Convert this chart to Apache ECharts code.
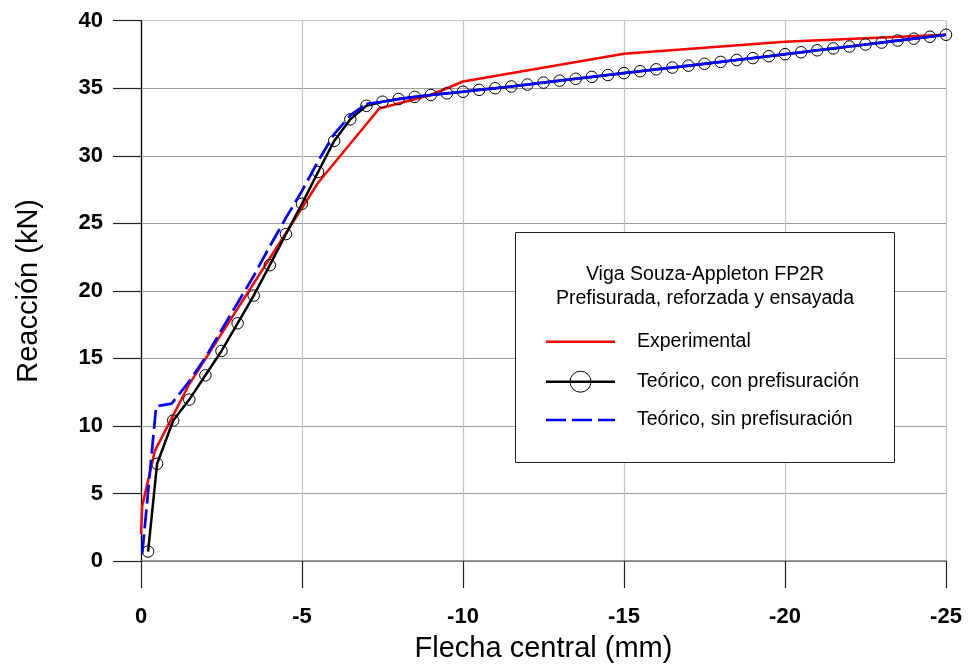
<!DOCTYPE html>
<html>
<head>
<meta charset="utf-8">
<script src="https://cdn.jsdelivr.net/npm/echarts@6/dist/echarts.min.js"></script>
<style>html,body{margin:0;padding:0;background:#fff}#c{width:970px;height:664px}</style>
</head>
<body>
<div id="c"></div>
<script>
// ---- Data ----
var xTicks = ['0', '-5', '-10', '-15', '-20', '-25'];
var yTicks = ['0', '5', '10', '15', '20', '25', '30', '35', '40'];

var redX = [0, -0.04, -0.43, -1.5, -5.5, -7.4, -9, -10, -15, -20, -25];
var redY = [2.0, 4.1, 8.15, 13.1, 28.0, 33.5, 34.5, 35.5, 37.55, 38.45, 38.96];

var blackX = [-0.22, -0.5, -1, -1.5, -2, -2.5, -3, -3.5, -4, -4.5, -5, -5.5, -6, -6.5, -7,
  -7.5, -8, -8.5, -9, -9.5, -10, -10.5, -11, -11.5, -12, -12.5, -13, -13.5, -14, -14.5, -15,
  -15.5, -16, -16.5, -17, -17.5, -18, -18.5, -19, -19.5, -20, -20.5, -21, -21.5, -22, -22.5,
  -23, -23.5, -24, -24.5, -25];
var blackY = [0.7, 7.2, 10.4, 11.95, 13.75, 15.55, 17.6, 19.65, 21.9, 24.2, 26.45, 28.8, 31.1, 32.7, 33.7,
  34.0, 34.2, 34.36, 34.5, 34.62, 34.74, 34.88, 35.0, 35.13, 35.27, 35.42, 35.56, 35.7, 35.84, 35.98, 36.12,
  36.26, 36.4, 36.53, 36.67, 36.81, 36.95, 37.09, 37.23, 37.37, 37.52, 37.66, 37.81, 37.95, 38.09, 38.24,
  38.38, 38.53, 38.67, 38.81, 38.96];

var blueX = [-0.04, -0.47, -0.95, -1.5, -2, -2.5, -3, -3.5, -4, -4.5, -5, -5.5, -6, -6.5, -7,
  -7.5, -8, -8.5, -9, -9.5, -10, -10.5, -11, -11.5, -12, -12.5, -13, -13.5, -14, -14.5, -15,
  -15.5, -16, -16.5, -17, -17.5, -18, -18.5, -19, -19.5, -20, -20.5, -21, -21.5, -22, -22.5,
  -23, -23.5, -24, -24.5, -25];
var blueY = [0.57, 11.45, 11.65, 13.3, 15.05, 17.1, 19.1, 21.1, 23.3, 25.4, 27.4, 29.6, 31.6, 33.0, 33.85,
  34.0, 34.2, 34.36, 34.5, 34.62, 34.74, 34.88, 35.0, 35.13, 35.27, 35.42, 35.56, 35.7, 35.84, 35.98, 36.12,
  36.26, 36.4, 36.53, 36.67, 36.81, 36.95, 37.09, 37.23, 37.37, 37.52, 37.66, 37.81, 37.95, 38.09, 38.24,
  38.38, 38.53, 38.67, 38.81, 38.96];
var blueDashEnd = 14; // index where the theoretical curve becomes dense (solid look)

var seriesNames = ['Experimental', 'Teórico, con prefisuración', 'Teórico, sin prefisuración'];
var legendTitle = ['Viga Souza-Appleton FP2R', 'Prefisurada, reforzada y ensayada'];

function pairs(xs, ys) { return xs.map(function (x, i) { return [x, ys[i]]; }); }

var FONT = 'Liberation Sans, Arial, sans-serif';
var chart = echarts.init(document.getElementById('c'), null, {renderer: 'canvas'});

var ySplitColors = ['#8c8c8c', '#9a9a9a', '#9a9a9a', '#9a9a9a', '#9a9a9a', '#9a9a9a', '#9a9a9a', '#9a9a9a', '#c8c8c8'];

chart.setOption({
  animation: false,
  backgroundColor: '#fff',
  grid: {left: 141, right: 24, top: 20.7, bottom: 103, containLabel: false, outerBoundsMode: 'none'},
  xAxis: {
    type: 'value', min: -25, max: 0, interval: 5, inverse: true,
    name: 'Flecha central (mm)', nameLocation: 'middle', nameGap: 73,
    nameTextStyle: {fontFamily: FONT, fontSize: 29, color: '#000'},
    axisLine: {show: true, onZero: false, lineStyle: {color: '#7a7a7a', width: 1.5}},
    axisTick: {show: true, length: 27, lineStyle: {color: '#222', width: 1.2}},
    axisLabel: {margin: 45, fontFamily: FONT, fontSize: 22, fontWeight: 'bold', color: '#000',
      formatter: function (v) { var i = Math.round(-v / 5); return xTicks[i]; }},
    splitLine: {show: true, lineStyle: {color: '#c4c4c4', width: 1.2}}
  },
  yAxis: {
    type: 'value', min: 0, max: 40, interval: 5,
    name: 'Reacción (kN)', nameLocation: 'middle', nameGap: 98,
    nameTextStyle: {fontFamily: FONT, fontSize: 29, color: '#000'},
    axisLine: {show: true, lineStyle: {color: '#000', width: 1.3}},
    axisTick: {show: true, length: 28, lineStyle: {color: '#222', width: 1.2}},
    axisLabel: {margin: 38, fontFamily: FONT, fontSize: 22, fontWeight: 'bold', color: '#000',
      padding: [3, 0, 0, 0],
      formatter: function (v) { return yTicks[Math.round(v / 5)]; }},
    splitLine: {show: true, lineStyle: {color: ySplitColors, width: 1.2}}
  },
  series: [
    {
      name: seriesNames[0], type: 'line', data: pairs(redX, redY), showSymbol: false,
      lineStyle: {color: '#ff0000', width: 2.5}, z: 2, emphasis: {disabled: true}, silent: true
    },
    {
      name: seriesNames[1], type: 'line', data: pairs(blackX, blackY),
      symbol: 'circle', symbolSize: 11.5, showSymbol: true, showAllSymbol: true,
      itemStyle: {color: 'rgba(0,0,0,0)', borderColor: '#000', borderWidth: 1},
      lineStyle: {color: '#000', width: 2.5}, z: 3, emphasis: {disabled: true}, silent: true
    },
    {
      name: seriesNames[2], type: 'line',
      data: pairs(blueX, blueY).slice(0, blueDashEnd + 1), showSymbol: false,
      lineStyle: {color: '#0000ff', width: 2.7, type: [19, 6]}, z: 4, emphasis: {disabled: true}, silent: true
    },
    {
      name: seriesNames[2] + ' ', type: 'line',
      data: pairs(blueX, blueY).slice(blueDashEnd), showSymbol: false,
      lineStyle: {color: '#0000ff', width: 2.7}, z: 4, emphasis: {disabled: true}, silent: true
    }
  ],
  graphic: [
    {type: 'rect', shape: {x: 515.5, y: 232.5, width: 379, height: 230}, style: {fill: '#fff', stroke: '#222', lineWidth: 1}, z: 100},
    {type: 'text', x: 705, y: 275, style: {text: legendTitle[0], fontFamily: FONT, fontSize: 19.5, fill: '#000', align: 'center', verticalAlign: 'middle'}, z: 101},
    {type: 'text', x: 705, y: 298.5, style: {text: legendTitle[1], fontFamily: FONT, fontSize: 19.5, fill: '#000', align: 'center', verticalAlign: 'middle'}, z: 101},
    {type: 'line', shape: {x1: 546, y1: 341.7, x2: 615, y2: 341.7}, style: {stroke: '#ff0000', lineWidth: 2.5}, z: 101},
    {type: 'line', shape: {x1: 546, y1: 381.7, x2: 615, y2: 381.7}, style: {stroke: '#000', lineWidth: 2.5}, z: 101},
    {type: 'circle', shape: {cx: 580.5, cy: 381.7, r: 10.5}, style: {fill: 'none', stroke: '#000', lineWidth: 1}, z: 102},
    {type: 'line', shape: {x1: 546, y1: 420, x2: 615, y2: 420}, style: {stroke: '#0000ff', lineWidth: 2.5, lineDash: [20, 6]}, z: 101},
    {type: 'text', x: 637, y: 341.7, style: {text: seriesNames[0], fontFamily: FONT, fontSize: 19.5, fill: '#000', align: 'left', verticalAlign: 'middle'}, z: 101},
    {type: 'text', x: 637, y: 381.7, style: {text: seriesNames[1], fontFamily: FONT, fontSize: 19.5, fill: '#000', align: 'left', verticalAlign: 'middle'}, z: 101},
    {type: 'text', x: 637, y: 420, style: {text: seriesNames[2], fontFamily: FONT, fontSize: 19.5, fill: '#000', align: 'left', verticalAlign: 'middle'}, z: 101}
  ]
});
</script>
</body>
</html>
